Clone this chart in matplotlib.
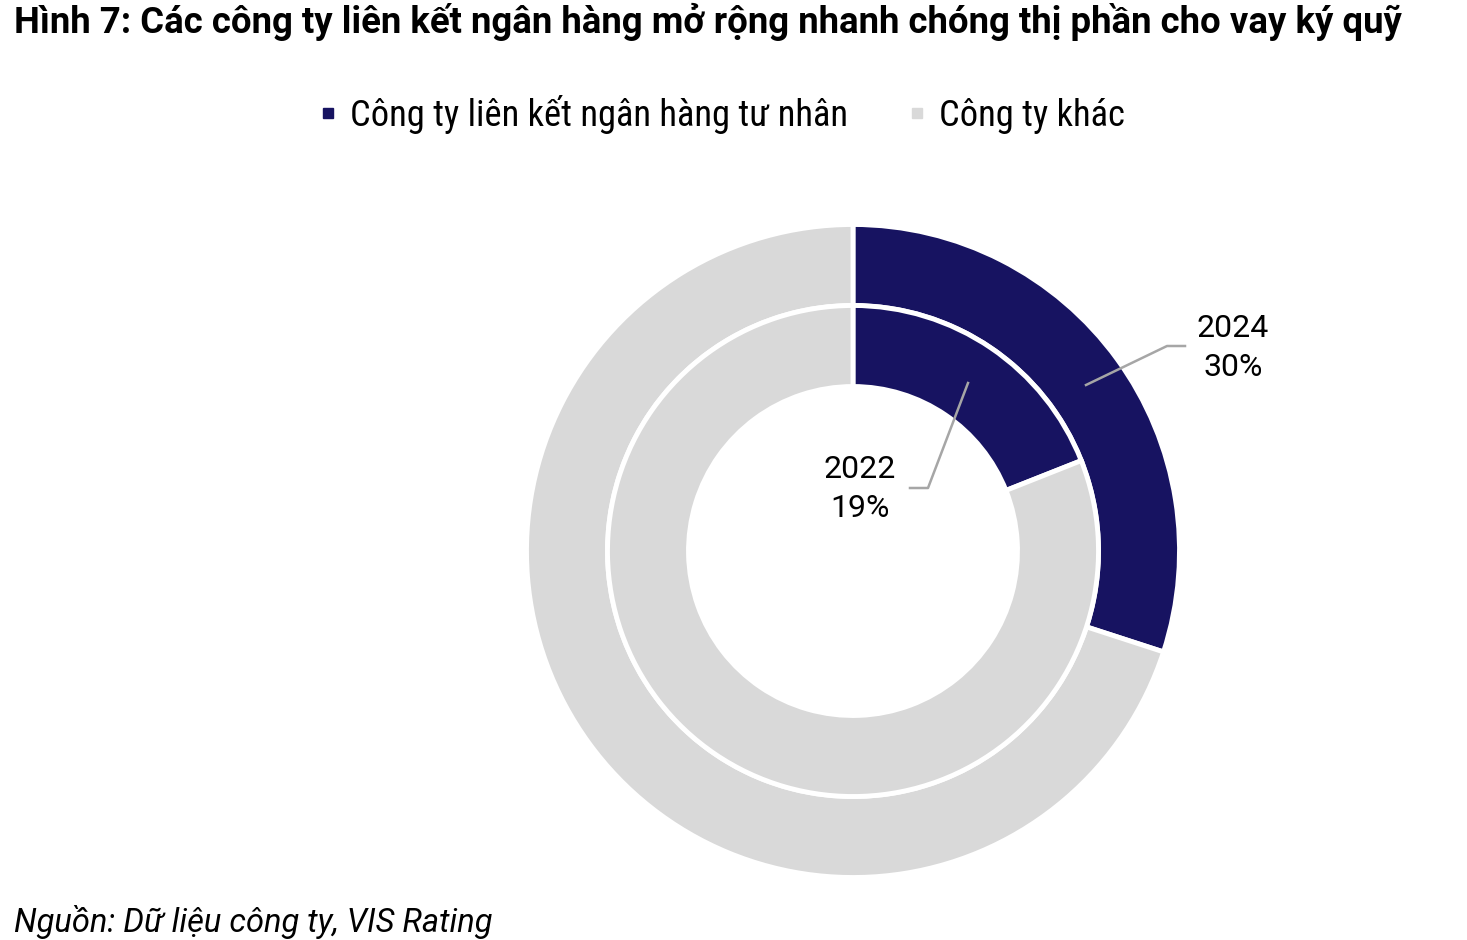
import matplotlib.pyplot as plt
from matplotlib.lines import Line2D

# Dữ liệu
categories = ['Công ty liên kết ngân hàng tư nhân', 'Công ty khác']
years = ['2022', '2024']
share_2022 = [19, 81]
share_2024 = [30, 70]
colors = ['#171361', '#D9D9D9']

W, H = 1467, 940
fig = plt.figure(figsize=(W / 100, H / 100), dpi=100)
ax = fig.add_axes([0, 0, 1, 1])
ax.set_xlim(0, W)
ax.set_ylim(0, H)
ax.set_aspect('equal')
ax.axis('off')

cx, cy = 853, H - 551
wp = dict(edgecolor='white', linewidth=3.5)

# vòng ngoài 2024, vòng trong 2022
outer, _ = ax.pie(share_2024, colors=colors, startangle=90, counterclock=False,
                  radius=326.5, center=(cx, cy), wedgeprops=dict(width=81, **wp))
inner, _ = ax.pie(share_2022, colors=colors, startangle=90, counterclock=False,
                  radius=245.5, center=(cx, cy), wedgeprops=dict(width=81, **wp))
ax.set_xlim(0, W)
ax.set_ylim(0, H)

lc = '#A6A6A6'
lf = dict(family='Roboto', fontsize=23, ha='center', va='center', linespacing=1.42)
# nhãn 2024
ax.plot([1086, 1167, 1185], [H - 385, H - 346, H - 346], color=lc, lw=1.8)
ax.text(1233, H - 348, f'{years[1]}\n{share_2024[0]}%', **lf)
# nhãn 2022
ax.plot([968, 928, 910], [H - 383, H - 488, H - 488], color=lc, lw=1.8)
ax.text(860, H - 489, f'{years[0]}\n{share_2022[0]}%', **lf)

handles = [Line2D([], [], ls='none', marker='s', markersize=7.5, color=c) for c in colors]
fig.legend(handles, categories, loc='center', bbox_to_anchor=(723 / W, 1 - 114 / H),
           ncol=2, frameon=False, handlelength=0.4, handletextpad=0.4, columnspacing=1.7,
           prop=dict(family=['Roboto Condensed', 'Roboto'], size=26.3))

fig.text(14 / W, 1 - 22 / H,
         'Hình 7: Các công ty liên kết ngân hàng mở rộng nhanh chóng thị phần cho vay ký quỹ',
         family='Roboto', weight='bold', fontsize=26.3, ha='left', va='center')
fig.text(14 / W, 1 - 922 / H, 'Nguồn: Dữ liệu công ty, VIS Rating',
         family='Roboto', style='italic', fontsize=23.5, ha='left', va='center')

fig.savefig('out.png', dpi=100, facecolor='white')
